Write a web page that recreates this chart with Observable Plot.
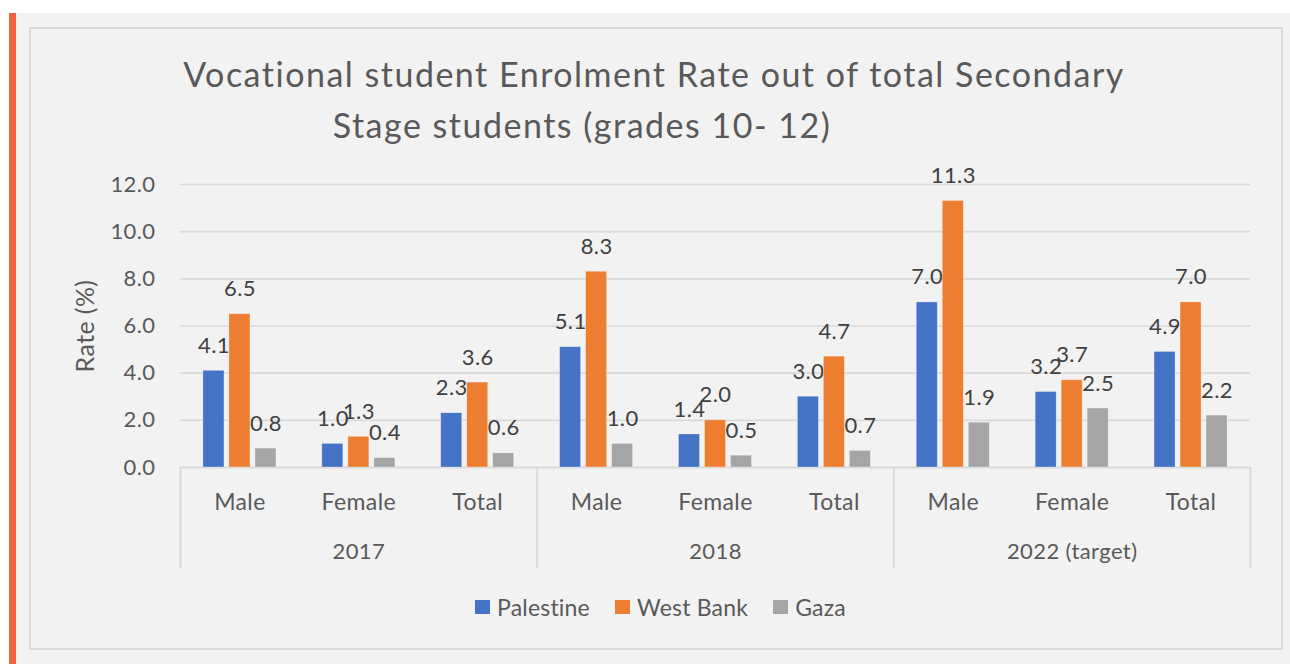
<!DOCTYPE html>
<html>
<head>
<meta charset="utf-8">
<script src="https://cdn.jsdelivr.net/npm/d3@7"></script>
<script src="https://cdn.jsdelivr.net/npm/@observablehq/plot@0.6"></script>
<style>
  html, body { margin: 0; padding: 0; background: #ffffff; }
  body { width: 1290px; height: 664px; position: relative; overflow: hidden; font-family: Lato, "Open Sans", sans-serif; color: #595959; }
  #accent { position: absolute; left: 9px; top: 13px; width: 7px; height: 651px; background: #f26440; }
  #panel { position: absolute; left: 16px; top: 13px; width: 1274px; height: 651px; background: #f2f2f2; }
  #frame { position: absolute; left: 29px; top: 27px; width: 1254px; height: 623px; border: 2px solid #d9d9d9; box-sizing: border-box; }
  #chart { position: absolute; left: 0; top: 0; }
  .title { position: absolute; white-space: nowrap; font-size: 34px; line-height: 38px; letter-spacing: 1.5px; color: #595959; transform: translateX(-50%); }
  #legend { position: absolute; left: 475px; top: 593px; display: flex; align-items: center; font-size: 23px; line-height: 28px; letter-spacing: 0.2px; color: #595959; }
  #legend .item { display: flex; align-items: center; margin-right: 25px; }
  #legend .sw { width: 15px; height: 14px; margin-right: 7px; }
  #chart svg text { letter-spacing: 0.4px; }
</style>
</head>
<body>
<div id="accent"></div>
<div id="panel"></div>
<div id="frame"></div>
<div id="chart"></div>
<div class="title" id="t1" style="left:654px; top:55px;">Vocational student Enrolment Rate out of total Secondary</div>
<div class="title" id="t2" style="left:582px; top:106px;">Stage students (grades 10- 12)</div>
<div id="legend"></div>
<script>
// ---- data ----
const years = ["2017", "2018", "2022 (target)"];
const groups = ["Male", "Female", "Total"];
const seriesNames = ["Palestine", "West Bank", "Gaza"];
const palestine = [4.1, 1.0, 2.3, 5.1, 1.4, 3.0, 7.0, 3.2, 4.9];
const westBank  = [6.5, 1.3, 3.6, 8.3, 2.0, 4.7, 11.3, 3.7, 7.0];
const gaza      = [0.8, 0.4, 0.6, 1.0, 0.5, 0.7, 1.9, 2.5, 2.2];
const yTicks = [0, 2, 4, 6, 8, 10, 12];
const yLabel = "Rate (%)";
const colors = ["#4472C4", "#ED7D31", "#A5A5A5"];

// ---- derived table ----
const seriesValues = [palestine, westBank, gaza];
const cats = [];
years.forEach((yr, i) => groups.forEach((g, j) => cats.push({key: yr + "|" + g, year: yr, group: g, idx: i * groups.length + j})));
const rows = [];
seriesNames.forEach((s, k) => cats.forEach(c => rows.push({key: c.key, series: s, k, value: seriesValues[k][c.idx]})));
const keys = cats.map(c => c.key);

const W = 1290, H = 664;
const mL = 180, mR = 40, mT = 184, mB = 197;
const step = (W - mL - mR) / keys.length;
const barW = 21, barGap = 26;
const pad = 1 - barW / step;
const frameH = H - mT - mB;

const marks = [
  Plot.ruleY(yTicks.filter(d => d > 0), {stroke: "#d9d9d9", strokeWidth: 1.6}),
  Plot.ruleY([0], {stroke: "#d9d9d9", strokeWidth: 2}),
  Plot.axisY({ticks: yTicks, tickFormat: d3.format(".1f"), tickSize: 0, tickPadding: 25, fontSize: 22, label: null}),
  Plot.text([yLabel], {frameAnchor: "left", textAnchor: "middle", rotate: -90, dx: -95, fontSize: 25, fill: "#595959"})
];
seriesNames.forEach((s, k) => {
  const data = rows.filter(d => d.k === k);
  const dx = (k - 1) * barGap;
  marks.push(Plot.barY(data, {x: "key", y: "value", fill: colors[k], dx, stroke: "#ffffff", strokeOpacity: 0.35, strokeWidth: 0.8}));
  marks.push(Plot.text(data, {x: "key", y: "value", text: d => d.value.toFixed(1), dx, dy: -25,
    lineAnchor: "middle", fontSize: 22, fill: "#404040"}));
});
// category labels
marks.push(Plot.text(cats, {x: "key", text: "group", frameAnchor: "bottom", dy: 35, lineAnchor: "middle", fontSize: 23, fill: "#595959"}));
// year labels (under middle category)
const yearCats = cats.filter(c => c.group === groups[1]);
marks.push(Plot.text(yearCats, {x: "key", text: "year", frameAnchor: "bottom", dy: 84, lineAnchor: "middle", fontSize: 22, fill: "#595959"}));
// group dividers
const firstCats = cats.filter(c => c.group === groups[0]).map(c => c.key);
marks.push(Plot.ruleX(firstCats, {dx: -step / 2, insetTop: frameH, insetBottom: -101, stroke: "#d9d9d9", strokeWidth: 2}));
marks.push(Plot.ruleX([keys[keys.length - 1]], {dx: step / 2, insetTop: frameH, insetBottom: -101, stroke: "#d9d9d9", strokeWidth: 2}));

const chart = Plot.plot({
  width: W, height: H,
  marginLeft: mL, marginRight: mR, marginTop: mT, marginBottom: mB,
  style: {background: "transparent", fontFamily: "Lato, 'Open Sans', sans-serif", color: "#595959", overflow: "visible"},
  x: {type: "band", domain: keys, paddingInner: pad, paddingOuter: pad / 2, round: false, axis: null},
  y: {domain: [0, 12], axis: null},
  marks
});
document.getElementById("chart").appendChild(chart);

// legend
const legend = document.getElementById("legend");
seriesNames.forEach((s, k) => {
  const item = document.createElement("div");
  item.className = "item";
  const sw = document.createElement("div");
  sw.className = "sw";
  sw.style.background = colors[k];
  const lab = document.createElement("span");
  lab.textContent = s;
  item.appendChild(sw); item.appendChild(lab);
  legend.appendChild(item);
});
</script>
</body>
</html>
